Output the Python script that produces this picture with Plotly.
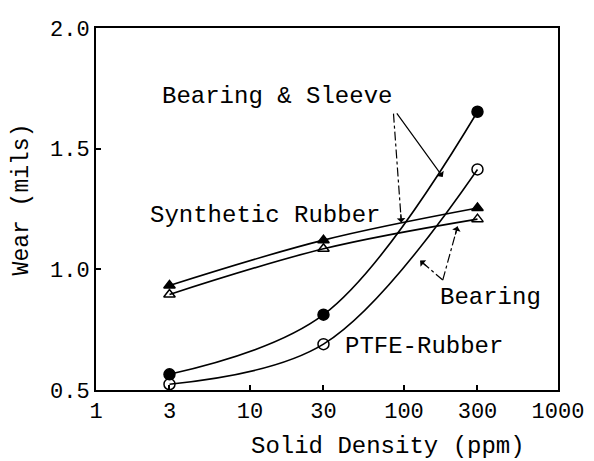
import plotly.graph_objects as go

# ---- data ----
density = [3, 30, 300]
ptfe_bearing_sleeve = [0.565, 0.812, 1.653]
ptfe_bearing = [0.524, 0.690, 1.414]
synth_bearing_sleeve = [0.933, 1.121, 1.254]
synth_bearing = [0.896, 1.085, 1.208]

x_tickvals = [1, 3, 10, 30, 100, 300, 1000]
x_ticktext = ["1", "3", "10", "30", "100", "300", "1000"]
y_tickvals = [0.5, 1.0, 1.5, 2.0]
y_ticktext = ["0.5", "1.0", "1.5", "2.0"]

FONT = "Courier New, Liberation Mono, monospace"
# page body has an 8px default margin, so the figure starts at (8, 8)
OFF = 8
W, H = 594 - OFF, 461 - OFF
# plot area in window pixels: x 96..565, y 18..390
PL, PR, PT, PB = 96, 565, 18, 390
ML, MR, MT, MB = PL - OFF, W - (PR - OFF), PT - OFF, H - (PB - OFF)
PW, PH = PR - PL, PB - PT


def px(xp):
    return (xp - PL) / PW


def py(yp):
    return (PB - yp) / PH


fig = go.Figure()

series = [
    (ptfe_bearing_sleeve, "circle", "PTFE-Rubber Bearing & Sleeve"),
    (ptfe_bearing, "circle-open", "PTFE-Rubber Bearing"),
    (synth_bearing_sleeve, "triangle-up", "Synthetic Rubber Bearing & Sleeve"),
    (synth_bearing, "triangle-up-open", "Synthetic Rubber Bearing"),
]
for ys, sym, name in series:
    fig.add_trace(go.Scatter(
        x=density, y=ys, name=name, mode="lines+markers",
        line=dict(color="black", width=1.6, shape="spline", smoothing=1.0),
        marker=dict(symbol=sym, size=11 if "circle" in sym else 10,
                    color="black", line=dict(color="black", width=1.5)),
        cliponaxis=False, showlegend=False,
    ))

# text labels (window pixel centres)
labels = [
    ("Bearing & Sleeve", 280, 88),
    ("Synthetic Rubber", 268, 211),
    ("Bearing", 496, 295),
    ("PTFE-Rubber", 429, 345),
]
for t, xx, yy in labels:
    fig.add_annotation(text=t, x=px(xx), y=py(yy), xref="paper", yref="paper",
                       showarrow=False, xanchor="center", yanchor="middle",
                       font=dict(family=FONT, size=24, color="black"))

# axis titles as annotations
fig.add_annotation(text="Solid Density (ppm)", x=px(392), y=py(448), xref="paper", yref="paper",
                   showarrow=False, xanchor="center", yanchor="middle",
                   font=dict(family=FONT, size=24, color="black"))
fig.add_annotation(text="Wear (mils)", x=px(21), y=py(194), xref="paper", yref="paper",
                   showarrow=False, xanchor="center", yanchor="middle", textangle=-90,
                   font=dict(family=FONT, size=23, color="black"))

# arrows: (tail_x, tail_y, tip_x, tip_y, dashed)
arrows = [
    (398, 106, 406, 218, True),
    (401, 106, 448, 171, False),
    (448, 277, 425, 257, True),
    (448, 277, 463, 222, True),
]
for tx, ty, hx, hy, dashed in arrows:
    if dashed:
        fig.add_shape(type="line", xref="paper", yref="paper",
                      x0=px(tx), y0=py(ty), x1=px(hx), y1=py(hy),
                      line=dict(color="black", width=1.2, dash="dashdot"))
        L = ((hx - tx) ** 2 + (hy - ty) ** 2) ** 0.5
        ax = (tx - hx) / L * 10
        ay = (ty - hy) / L * 10
    else:
        ax = tx - hx
        ay = ty - hy
    fig.add_annotation(text="", x=px(hx), y=py(hy), xref="paper", yref="paper",
                       ax=ax, ay=ay, showarrow=True, arrowhead=1, arrowsize=1.2,
                       arrowwidth=1.2, arrowcolor="black", standoff=0)

fig.update_xaxes(type="log", range=[0, 3], tickvals=x_tickvals, ticktext=x_ticktext,
                 ticks="inside", ticklen=5, tickcolor="black", tickwidth=1.5,
                 showline=True, linecolor="black", linewidth=1.8, mirror=True,
                 showgrid=False, zeroline=False,
                 tickfont=dict(family=FONT, size=22, color="black"))
fig.update_yaxes(range=[0.5, 2.0], tickvals=y_tickvals, ticktext=y_ticktext,
                 ticks="inside", ticklen=5, tickcolor="black", tickwidth=1.5,
                 showline=True, linecolor="black", linewidth=1.8, mirror=True,
                 showgrid=False, zeroline=False,
                 tickfont=dict(family=FONT, size=22, color="black"))

fig.update_layout(width=W, height=H, margin=dict(l=ML, r=MR, t=MT, b=MB),
                  paper_bgcolor="white", plot_bgcolor="white", showlegend=False)

fig.write_html("out.html")
